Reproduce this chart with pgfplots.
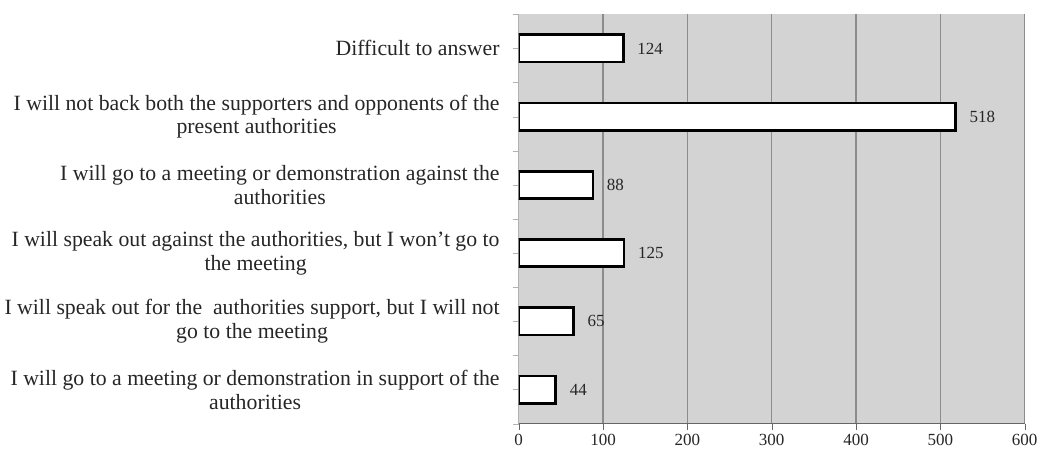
\documentclass[border=0pt]{standalone}
\usepackage{pgfplots}
\pgfplotsset{compat=1.18}
\usepackage{fontspec}
\setmainfont{Liberation Serif}
\definecolor{plotbg}{RGB}{211,211,211}
\definecolor{gridc}{RGB}{140,140,140}
\begin{document}
\begin{tikzpicture}
\begin{axis}[
    xbar,
    scale only axis,
    width=372pt, height=301pt,
    xmin=0, xmax=600,
    ymin=-0.5, ymax=5.5,
    y dir=reverse,
    bar width=20pt,
    axis background/.style={fill=plotbg},
    axis lines*=left,
    x axis line style={draw=gray!80!black, line width=0.8pt},
    y axis line style={draw=gray!60},
    xtick={0,100,...,600},
    xmajorgrids=true,
    grid style={gridc, line width=0.8pt},
    ytick={-0.5,0.5,...,5.5},
    yticklabels={},
    extra y ticks={0,1,2,3,4,5},
    extra y tick labels={
        {Difficult to answer},
        {I will not back both the supporters and opponents of the\\present authorities},
        {I will go to a meeting or demonstration against the\\authorities},
        {I will speak out against the authorities, but I won’t go to\\the meeting},
        {I will speak out for the \ authorities support, but I will not\\go to the meeting},
        {I will go to a meeting or demonstration in support of the\\authorities}
    },
    extra y tick style={tick style={draw=none}},
    major tick length=4.5pt,
    tick align=outside,
    xtick style={draw=gray!80!black},
    ytick style={draw=gray!60},
    yticklabel style={align=center, font=\fontsize{16}{17.5}\selectfont, text=black!85, xshift=-6pt},
    xticklabel style={font=\fontsize{12.5}{14}\selectfont, text=black!85},
    /pgf/number format/assume math mode=true,
    nodes near coords,
    every node near coord/.append style={font=\fontsize{12.5}{14}\selectfont, text=black!85, xshift=6pt},
]
\addplot[draw=black, fill=white, line width=2pt]
    coordinates {(124,0) (518,1) (88,2) (125,3) (65,4) (44,5)};
\end{axis}
\path (current axis.north) ++(0,10.5pt);
\end{tikzpicture}
\end{document}
